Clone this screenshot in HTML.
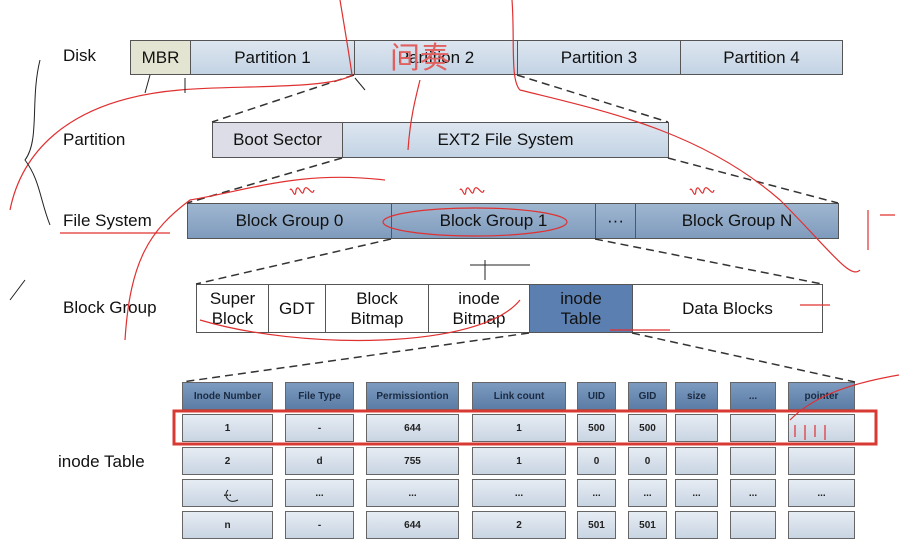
<!DOCTYPE html>
<html><head><meta charset="utf-8"><style>
body{margin:0;background:#fff;width:899px;height:552px;overflow:hidden;position:relative;font-family:"Liberation Sans","Noto Sans CJK SC",sans-serif}
.b{position:absolute;box-sizing:border-box;border:1px solid #555;display:flex;align-items:center;justify-content:center;text-align:center;font-size:17px;color:#111;background:linear-gradient(#dde6f0,#c3d3e4);line-height:20px}
.g{background:linear-gradient(#9fb6d0,#7f9bbd)}
.l{position:absolute;font-size:17px;color:#111}
.t{position:absolute;box-sizing:border-box;border:1px solid #666;display:flex;align-items:center;justify-content:center;font-size:10px;font-weight:bold;color:#222;background:linear-gradient(#e6ecf3,#c9d5e3)}
.h{background:linear-gradient(#7d9bc0,#5b7ca6);color:#1a2a40}
svg{position:absolute;left:0;top:0}
</style></head><body>
<div class="l" style="left:63px;top:46px">Disk</div>
<div class="l" style="left:63px;top:130px">Partition</div>
<div class="l" style="left:63px;top:211px">File System</div>
<div class="l" style="left:63px;top:298px">Block Group</div>
<div class="l" style="left:58px;top:452px">inode Table</div>

<div class="b" style="left:130px;top:40px;width:61px;height:35px;background:#e4e4d2">MBR</div>
<div class="b" style="left:190px;top:40px;width:165px;height:35px">Partition 1</div>
<div class="b" style="left:354px;top:40px;width:164px;height:35px">Partition 2</div>
<div class="b" style="left:517px;top:40px;width:164px;height:35px">Partition 3</div>
<div class="b" style="left:680px;top:40px;width:163px;height:35px">Partition 4</div>

<div class="b" style="left:212px;top:122px;width:131px;height:36px;background:#dcdde6">Boot Sector</div>
<div class="b" style="left:342px;top:122px;width:327px;height:36px">EXT2 File System</div>

<div class="b g" style="left:187px;top:203px;width:205px;height:36px">Block Group 0</div>
<div class="b g" style="left:391px;top:203px;width:205px;height:36px">Block Group 1</div>
<div class="b g" style="left:595px;top:203px;width:41px;height:36px">···</div>
<div class="b g" style="left:635px;top:203px;width:204px;height:36px">Block Group N</div>

<div class="b" style="left:196px;top:284px;width:73px;height:49px;background:#fff">Super<br>Block</div>
<div class="b" style="left:268px;top:284px;width:58px;height:49px;background:#fff">GDT</div>
<div class="b" style="left:325px;top:284px;width:104px;height:49px;background:#fff">Block<br>Bitmap</div>
<div class="b" style="left:428px;top:284px;width:102px;height:49px;background:#fff">inode<br>Bitmap</div>
<div class="b" style="left:529px;top:284px;width:104px;height:49px;background:#5b7fb0">inode<br>Table</div>
<div class="b" style="left:632px;top:284px;width:191px;height:49px;background:#fff">Data Blocks</div>

<div class="t h" style="left:182px;top:382px;width:91px;height:28px">Inode Number</div>
<div class="t h" style="left:285px;top:382px;width:69px;height:28px">File Type</div>
<div class="t h" style="left:366px;top:382px;width:93px;height:28px">Permissiontion</div>
<div class="t h" style="left:472px;top:382px;width:94px;height:28px">Link count</div>
<div class="t h" style="left:577px;top:382px;width:39px;height:28px">UID</div>
<div class="t h" style="left:628px;top:382px;width:39px;height:28px">GID</div>
<div class="t h" style="left:675px;top:382px;width:43px;height:28px">size</div>
<div class="t h" style="left:730px;top:382px;width:46px;height:28px">...</div>
<div class="t h" style="left:788px;top:382px;width:67px;height:28px">pointer</div>

<div class="t" style="left:182px;top:414px;width:91px;height:28px">1</div>
<div class="t" style="left:285px;top:414px;width:69px;height:28px">-</div>
<div class="t" style="left:366px;top:414px;width:93px;height:28px">644</div>
<div class="t" style="left:472px;top:414px;width:94px;height:28px">1</div>
<div class="t" style="left:577px;top:414px;width:39px;height:28px">500</div>
<div class="t" style="left:628px;top:414px;width:39px;height:28px">500</div>
<div class="t" style="left:675px;top:414px;width:43px;height:28px"></div>
<div class="t" style="left:730px;top:414px;width:46px;height:28px"></div>
<div class="t" style="left:788px;top:414px;width:67px;height:28px"></div>

<div class="t" style="left:182px;top:447px;width:91px;height:28px">2</div>
<div class="t" style="left:285px;top:447px;width:69px;height:28px">d</div>
<div class="t" style="left:366px;top:447px;width:93px;height:28px">755</div>
<div class="t" style="left:472px;top:447px;width:94px;height:28px">1</div>
<div class="t" style="left:577px;top:447px;width:39px;height:28px">0</div>
<div class="t" style="left:628px;top:447px;width:39px;height:28px">0</div>
<div class="t" style="left:675px;top:447px;width:43px;height:28px"></div>
<div class="t" style="left:730px;top:447px;width:46px;height:28px"></div>
<div class="t" style="left:788px;top:447px;width:67px;height:28px"></div>

<div class="t" style="left:182px;top:479px;width:91px;height:28px">...</div>
<div class="t" style="left:285px;top:479px;width:69px;height:28px">...</div>
<div class="t" style="left:366px;top:479px;width:93px;height:28px">...</div>
<div class="t" style="left:472px;top:479px;width:94px;height:28px">...</div>
<div class="t" style="left:577px;top:479px;width:39px;height:28px">...</div>
<div class="t" style="left:628px;top:479px;width:39px;height:28px">...</div>
<div class="t" style="left:675px;top:479px;width:43px;height:28px">...</div>
<div class="t" style="left:730px;top:479px;width:46px;height:28px">...</div>
<div class="t" style="left:788px;top:479px;width:67px;height:28px">...</div>

<div class="t" style="left:182px;top:511px;width:91px;height:28px">n</div>
<div class="t" style="left:285px;top:511px;width:69px;height:28px">-</div>
<div class="t" style="left:366px;top:511px;width:93px;height:28px">644</div>
<div class="t" style="left:472px;top:511px;width:94px;height:28px">2</div>
<div class="t" style="left:577px;top:511px;width:39px;height:28px">501</div>
<div class="t" style="left:628px;top:511px;width:39px;height:28px">501</div>
<div class="t" style="left:675px;top:511px;width:43px;height:28px"></div>
<div class="t" style="left:730px;top:511px;width:46px;height:28px"></div>
<div class="t" style="left:788px;top:511px;width:67px;height:28px"></div>

<svg width="899" height="552">
<g stroke="#333" stroke-width="1.5" stroke-dasharray="8,5" fill="none">
<path d="M354 75L212 122M517 75L668 122M342 158L187 203M668 158L838 203M391 239L196 284M595 239L822 284M529 333L182 382M632 333L855 382"/>
</g>
<rect x="174" y="411" width="702" height="33" fill="none" stroke="#d83a33" stroke-width="3"/>
<text x="390" y="68" font-size="30" fill="#e06060" font-family="Noto Sans CJK SC,sans-serif">间奏</text>
<g stroke="#e03030" stroke-width="1.2" fill="none">
<path d="M340 0C345 30 350 60 352 75C330 90 230 85 180 90C60 100 20 160 10 210"/>
<path d="M512 0C515 40 510 80 520 90C600 110 700 130 780 200C830 250 850 280 860 270"/>
<path d="M420 80C415 100 410 120 408 150"/>
<path d="M385 180C300 170 250 190 190 200C150 230 130 260 125 340"/>
<ellipse cx="475" cy="222" rx="92" ry="14"/>
<path d="M290 190c2-5 5 12 6 0 3-8 6 10 8 0 3-8 8 8 10 0"/>
<path d="M460 190c2-5 5 12 6 0 3-8 6 10 8 0 3-8 8 8 10 0"/>
<path d="M690 190c2-5 5 12 6 0 3-8 6 10 8 0 3-8 8 8 10 0"/>
<path d="M200 320C300 350 480 350 520 300"/>
<path d="M60 233h110M610 330h60M800 305h30"/>
<path d="M790 420C810 400 840 385 899 375M795 425v12M805 425v15M815 425v12M825 425v15"/>
<path d="M868 210v40M880 215h15"/>
</g>
<g stroke="#222" stroke-width="1" fill="none">
<path d="M40 60C30 100 40 140 25 160C40 180 40 200 50 225"/>
<path d="M150 75l-5 18M185 78v15M355 78l10 12"/>
<path d="M10 300l15-20"/>
<path d="M470 265h60M485 260v20"/>
<path d="M228 490c-5 5 0 15 10 10"/>
</g>
</svg>
</body></html>
